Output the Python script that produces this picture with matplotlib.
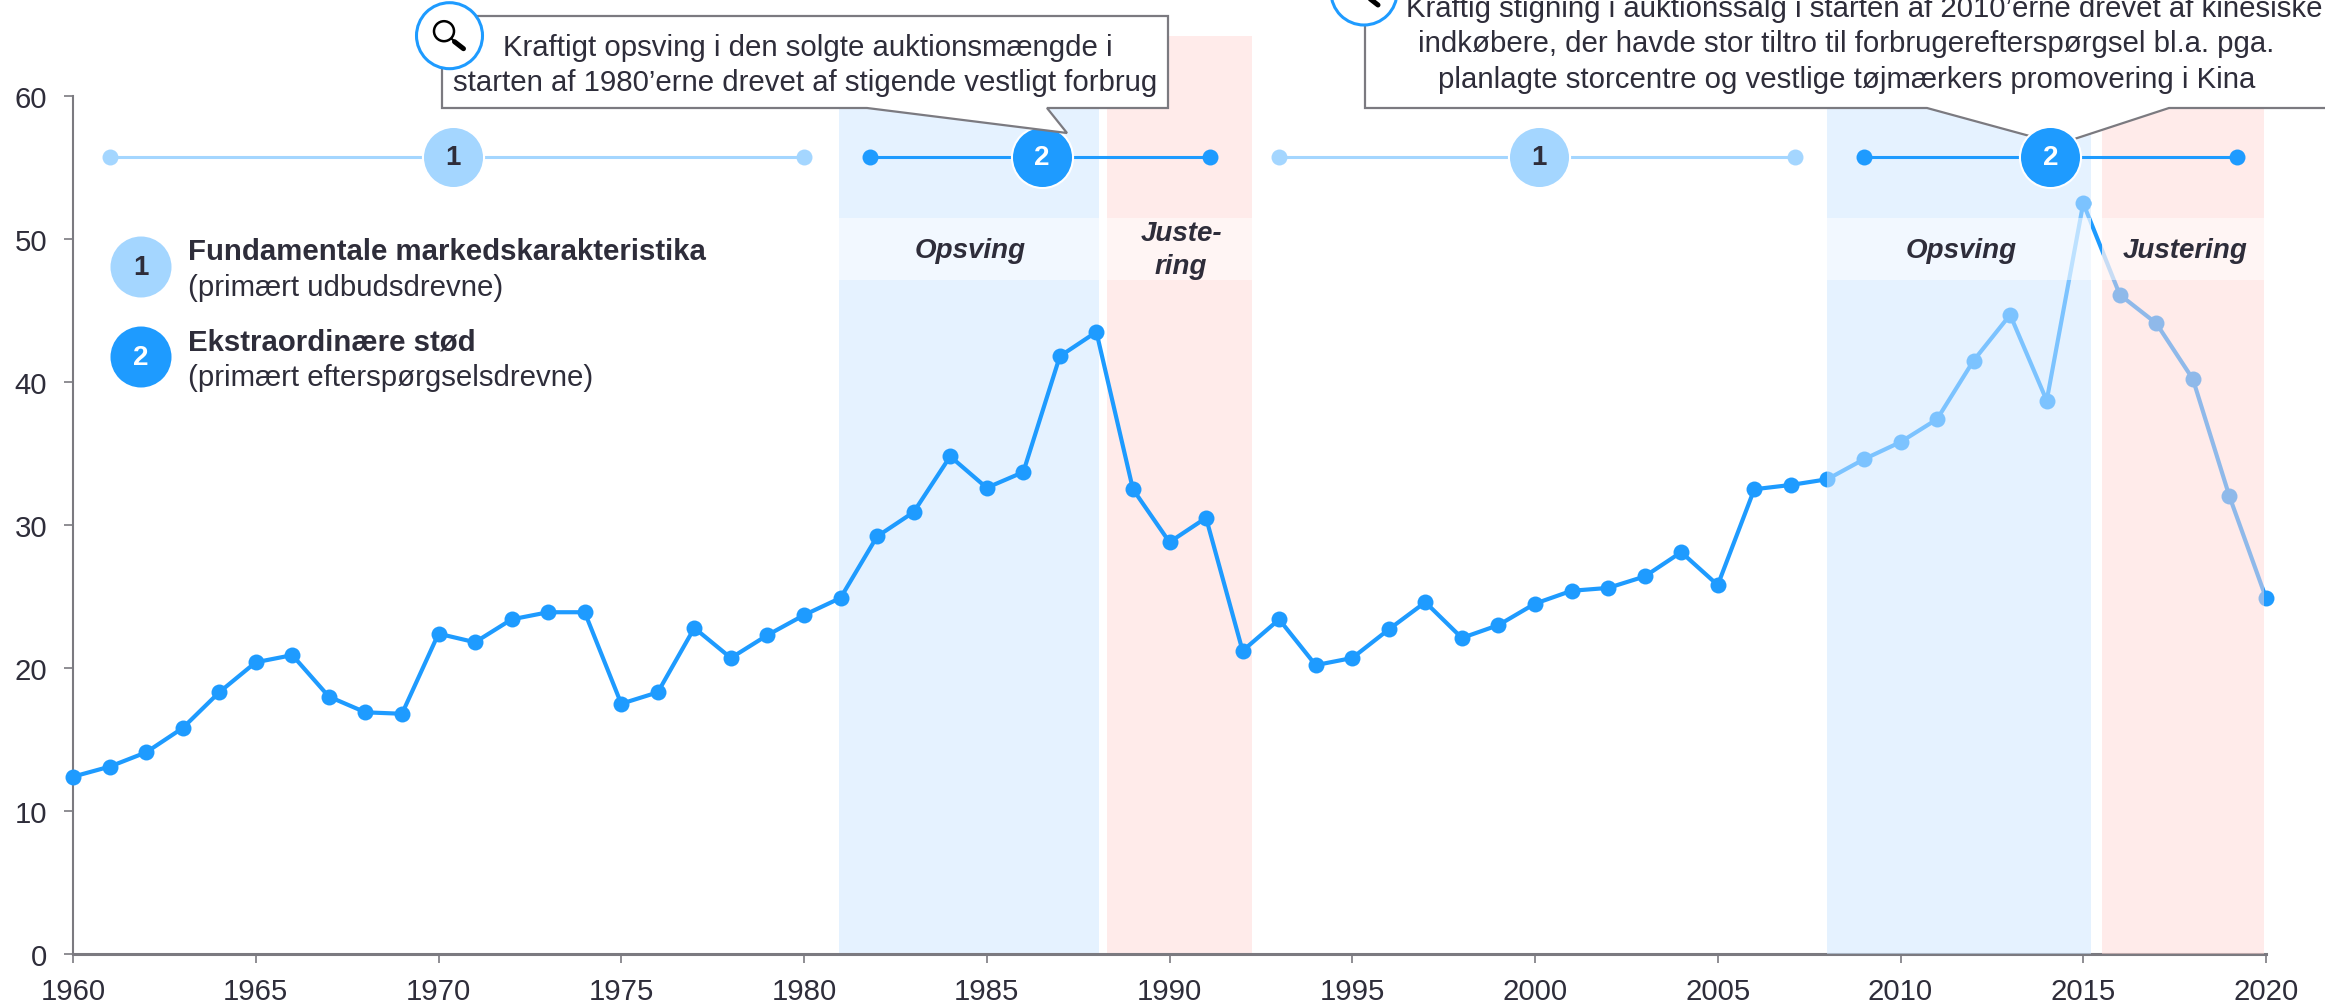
import matplotlib
matplotlib.use("Agg")
import matplotlib.pyplot as plt
from matplotlib.patches import Circle, Polygon
from matplotlib.transforms import Affine2D

plt.rcParams['font.family'] = ['Liberation Sans', 'DejaVu Sans']

W, H = 2325, 1004

#values
years = list(range(1960, 2021))
values = [12.4, 13.1, 14.1, 15.8, 18.3, 20.4, 20.9, 18.0, 16.9, 16.8,
          22.4, 21.8, 23.4, 23.9, 23.9, 17.5, 18.3, 22.8, 20.7, 22.3,
          23.7, 24.9, 29.2, 30.9, 34.8, 32.6, 33.7, 41.8, 43.5, 32.5,
          28.8, 30.5, 21.2, 23.4, 20.2, 20.7, 22.7, 24.6, 22.1, 23.0,
          24.5, 25.4, 25.6, 26.4, 28.1, 25.8, 32.5, 32.8, 33.2, 34.6,
          35.8, 37.4, 41.5, 44.7, 38.7, 52.5, 46.1, 44.1, 40.2, 32.0, 24.9]

x_ticks = [1960, 1965, 1970, 1975, 1980, 1985, 1990, 1995, 2000, 2005, 2010, 2015, 2020]
y_ticks = [0, 10, 20, 30, 40, 50, 60]

#shaded periods: start year, end year
upswing_spans = [(1980.97, 1988.06), (2008.0, 2015.2)]
adjust_spans = [(1988.3, 1992.25), (2015.5, 2019.95)]
band_top = 64.2
strip_low, strip_high = 47.1, 51.5

#timeline: start, badge, end, badge number
timeline = [(1961, 1970.4, 1980, "1"), (1981.8, 1986.5, 1991.1, "2"),
            (1993, 2000.1, 2007.1, "1"), (2009, 2014.1, 2019.2, "2")]
timeline_y = 55.7

note_1980 = ["Kraftigt opsving i den solgte auktionsmængde i",
             "starten af 1980’erne drevet af stigende vestligt forbrug"]
note_2010 = ["Kraftig stigning i auktionssalg i starten af 2010’erne drevet af kinesiske",
             "indkøbere, der havde stor tiltro til forbrugerefterspørgsel bl.a. pga.",
             "planlagte storcentre og vestlige tøjmærkers promovering i Kina"]

BLUE = "#1E9BFF"
LIGHT = "#A4D6FF"
INK = "#2E2D3A"
GREY = "#7B7A80"
BLUE_BAND = (208/255, 232/255, 1, 0.533)
RED_BAND = (1, 216/255, 214/255, 0.507)
FS = 21.2
FS_SMALL = 20

fig = plt.figure(figsize=(W/100, H/100), dpi=100)
ax = fig.add_axes([73/W, 1-955/H, (2266-73)/W, 858/H])
ax.set_xlim(1960, 2020)
ax.set_ylim(0, 60)

#pixel coordinates for the decorations, origin top left
px = Affine2D().scale(1, -1).translate(0, H)

ax.plot(years, values, color=BLUE, lw=3, marker='o', ms=11.5, mew=0, zorder=3, clip_on=False)

#the 1980s bands sit under the line, the 2010s ones over it (faded look)
for spans, color in [(upswing_spans, BLUE_BAND), (adjust_spans, RED_BAND)]:
    for i, (x0, x1) in enumerate(spans):
        z = 1 if i == 0 else 4
        ax.fill_between([x0, x1], 0, band_top, color=color, lw=0, zorder=z, clip_on=False)
        ax.fill_between([x0, x1], strip_low, strip_high, color='white', alpha=0.5, lw=0, zorder=5)

#callouts
def callout(points, circle_xy, z):
    ax.add_patch(Polygon(points, closed=True, fc='white', ec=GREY, lw=1.6, transform=px,
                         clip_on=False, zorder=z))
    cx, cy = circle_xy
    ax.add_patch(Circle((cx, cy), 33, fc='white', ec=BLUE, lw=2.2, transform=px,
                        clip_on=False, zorder=z+0.1))
    #magnifying glass
    ax.add_patch(Circle((cx-5.5, cy-4.5), 10, fc='none', ec='black', lw=1.8, transform=px,
                        clip_on=False, zorder=z+0.2))
    ax.plot([cx+2, cx+14], [cy+3, cy+13], color='black', lw=1.5, transform=px,
            clip_on=False, zorder=z+0.2, solid_capstyle='round')
    ax.plot([cx+5, cx+14], [cy+6, cy+13], color='black', lw=3.6, transform=px,
            clip_on=False, zorder=z+0.2, solid_capstyle='round')

#the 1980s tail lies over its badge, the 2010s badge lies over its tail
callout([(442, 17), (1168, 17), (1168, 109), (1047, 109), (1067, 134), (867, 109), (442, 109)],
        (449.5, 36.7), 13)
callout([(1365, -20), (2400, -20), (2400, 109), (2169, 109), (2059, 145), (1927, 109), (1365, 109)],
        (1364, -7), 6)

for txt, xc, yc in [(note_1980[0], 808, 48), (note_1980[1], 805, 83),
                    (note_2010[0], 1864, 9), (note_2010[1], 1846, 44), (note_2010[2], 1847, 80)]:
    ax.text(xc, yc, txt, transform=px, ha='center', va='center', fontsize=FS, color=INK,
            zorder=14, clip_on=False)

#timeline with numbered badges
for start, mid, end, num in timeline:
    c = LIGHT if num == "1" else BLUE
    ax.plot([start, end], [timeline_y, timeline_y], color=c, lw=2.2, marker='o', ms=11.5, mew=0,
            zorder=10, clip_on=False)
    ax.plot([mid], [timeline_y], marker='o', ms=44, color=c, mew=1.5, mec='white', zorder=11, clip_on=False)
    ax.text(mid, timeline_y, num, ha='center', va='center', fontsize=FS_SMALL, fontweight='bold',
            color=INK if num == "1" else 'white', zorder=12)

#period labels
for txt, xc, yc in [("Opsving", 970, 251), ("Juste-", 1181, 234), ("ring", 1181, 267),
                    ("Opsving", 1961, 251), ("Justering", 2185, 251)]:
    ax.text(xc, yc, txt, transform=px, ha='center', va='center', fontsize=FS_SMALL, fontweight='bold',
            style='italic', color=INK, zorder=9)

#legend
for num, c, yc, bold, sub, y1, y2 in [
        ("1", LIGHT, 268, "Fundamentale markedskarakteristika", "(primært udbudsdrevne)", 252, 288),
        ("2", BLUE, 358, "Ekstraordinære stød", "(primært efterspørgselsdrevne)", 343, 378)]:
    ax.add_patch(Circle((141, yc), 30.5, fc=c, ec='none', transform=px, clip_on=False, zorder=9))
    ax.text(141, yc, num, transform=px, ha='center', va='center', fontsize=FS_SMALL, fontweight='bold',
            color=INK if num == "1" else 'white', zorder=10)
    ax.text(187.5, y1, bold, transform=px, va='center', fontsize=FS, fontweight='bold', color=INK, zorder=9)
    ax.text(187.5, y2, sub, transform=px, va='center', fontsize=FS, color=INK, zorder=9)

#axes
ax.spines['top'].set_visible(False)
ax.spines['right'].set_visible(False)
ax.spines['left'].set_color(GREY)
ax.spines['left'].set_linewidth(1.5)
ax.spines['bottom'].set_color(GREY)
ax.spines['bottom'].set_linewidth(2.2)
ax.spines['left'].set_zorder(2)
ax.set_xticks(x_ticks)
ax.set_yticks(y_ticks)
ax.tick_params(axis='x', length=6.5, width=1.2, color=GREY, labelsize=FS, labelcolor=INK, pad=10)
ax.tick_params(axis='y', length=6.5, width=1.2, color=GREY, labelsize=FS, labelcolor=INK, pad=12)

fig.savefig("out.png", dpi=100)
